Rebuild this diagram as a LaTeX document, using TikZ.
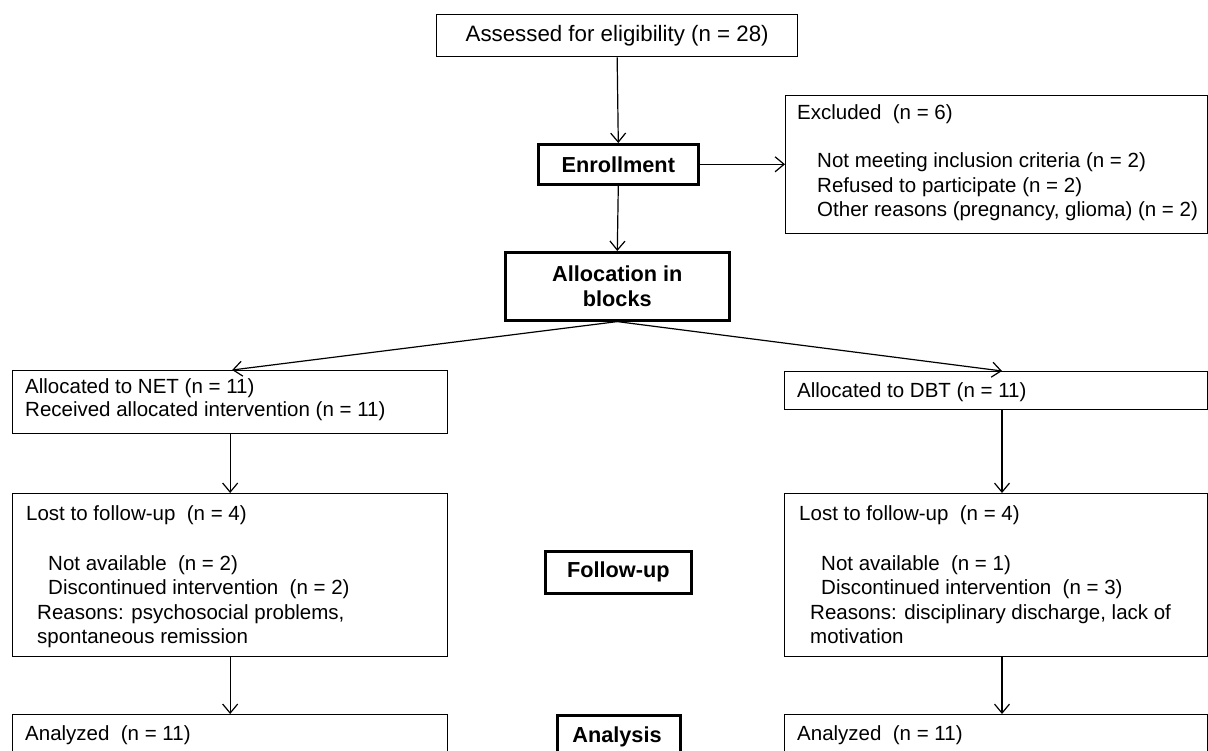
\documentclass[tikz,border=0pt]{standalone}
\usepackage{fontspec}
\setmainfont{Liberation Sans}
\usetikzlibrary{arrows.meta,calc}
\begin{document}
\begin{tikzpicture}[x=1pt,y=-1pt,
  thinbox/.style={draw,line width=1.3pt,inner sep=0pt,anchor=north west},
  thickbox/.style={draw,line width=2.6pt,inner sep=0pt,anchor=north west,
    font=\fontsize{21.7}{26}\selectfont\bfseries,align=center},
  txt/.style={anchor=base west,inner sep=0pt,font=\fontsize{20.5}{24}\selectfont},
  arr/.style={line width=1.2pt,-{Straight Barb[length=9pt,width=15pt,line width=1.2pt]}}]
\useasboundingbox (0,0) rectangle (1208,751);
% boxes
\node[thinbox,minimum width=361,minimum height=42,font=\fontsize{22.3}{26}\selectfont] (assess) at (436,14) {Assessed for eligibility (n = 28)};
\node[thickbox,minimum width=160,minimum height=40] (enroll) at (537,143) {Enrollment};
\node[thinbox,minimum width=422,minimum height=138] (excl) at (785,95) {};
\node[thickbox,minimum width=224,minimum height=68] (alloc) at (504,251) {Allocation in\\[-1pt]blocks};
\node[thinbox,minimum width=435,minimum height=63] (net) at (12,370) {};
\node[thinbox,minimum width=423,minimum height=38] (dbt) at (784,371) {};
\node[thinbox,minimum width=435,minimum height=163] (lostL) at (12,493) {};
\node[thinbox,minimum width=423,minimum height=163] (lostR) at (784,493) {};
\node[thickbox,minimum width=146,minimum height=42] (follow) at (544,550) {Follow-up};
\node[thinbox,minimum width=435,minimum height=60] (anaL) at (12,714) {};
\node[thickbox,minimum width=123,minimum height=60] (analysis) at (556,714) {};
\node[thinbox,minimum width=423,minimum height=60] (anaR) at (784,714) {};
% texts
\node[txt] (e1) at (797,120) {Excluded\ \ (n = 6)};
\node[txt] (e2) at (817,168) {Not meeting inclusion criteria (n = 2)};
\node[txt] (e3) at (817,193) {Refused to participate (n = 2)};
\node[txt] (e4) at (817,217) {Other reasons (pregnancy, glioma) (n = 2)};
\node[txt] (n1) at (25,393) {Allocated to NET (n = 11)};
\node[txt] (n2) at (25,417) {Received allocated intervention (n = 11)};
\node[txt] (d1) at (797,397) {Allocated to DBT (n = 11)};
\node[txt] (l1) at (26,520) {Lost to follow-up\ \ (n = 4)};
\node[txt] (l2) at (48,570) {Not available\ \ (n = 2)};
\node[txt] (l3) at (48,594) {Discontinued intervention\ \ (n = 2)};
\node[txt] (l4) at (37,619) {Reasons: psychosocial problems,};
\node[txt] (l5) at (37,643) {spontaneous remission};
\node[txt] (r1) at (799,520) {Lost to follow-up\ \ (n = 4)};
\node[txt] (r2) at (821,570) {Not available\ \ (n = 1)};
\node[txt] (r3) at (821,594) {Discontinued intervention\ \ (n = 3)};
\node[txt] (r4) at (810,619) {Reasons: disciplinary discharge, lack of};
\node[txt] (r5) at (810,643) {motivation};
\node[txt] (a1) at (25,740) {Analyzed\ \ (n = 11)};
\node[txt] (a2) at (797,740) {Analyzed\ \ (n = 11)};
\node[anchor=base,inner sep=0pt,font=\fontsize{21.7}{26}\selectfont\bfseries] (anlab) at (617,742) {Analysis};
% connectors
\coordinate (rx) at (1002,0);
\draw[arr] (assess.south) -- (enroll.north);
\draw[arr] (enroll.east) -- (excl.west |- enroll.east);
\draw[arr] (enroll.south) -- (alloc.north);
\draw[arr] (alloc.south) -- ($(net.north)+(2,0)$);
\draw[arr] (alloc.south) -- (rx |- dbt.north);
\draw[arr] (net.south) -- (lostL.north);
\draw[arr] (rx |- dbt.south) -- (rx |- lostR.north);
\draw[arr] (lostL.south) -- (anaL.north);
\draw[arr] (rx |- lostR.south) -- (rx |- anaR.north);
\end{tikzpicture}
\end{document}
